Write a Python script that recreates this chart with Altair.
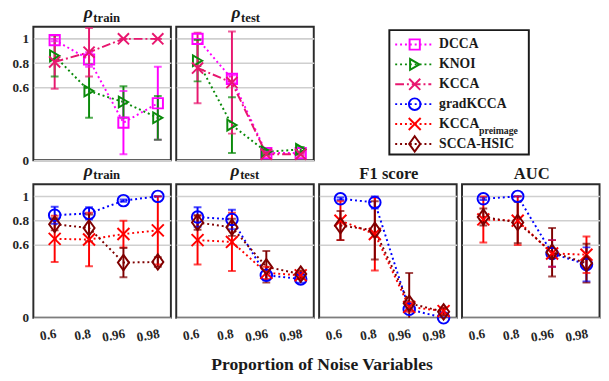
import altair as alt
import pandas as pd

categories = ["0.6", "0.8", "0.96", "0.98"]
series_names = ["DCCA", "KNOI", "KCCA", "gradKCCA", "KCCA_preimage", "SCCA-HSIC"]
legend_labels = ["DCCA", "KNOI", "KCCA", "gradKCCA", "KCCA", "SCCA-HSIC"]
series_colors = ["#ff00ff", "#0a8a0a", "#e8176f", "#0000ff", "#ff0000", "#7f0000"]
series_dash = [[2, 3], [2, 3], [9, 3, 2, 3], [2, 3], [2, 3], [2, 3]]
series_shapes = ["square", "triangle-right", "M-1,-1L1,1M-1,1L1,-1", "circle",
                 "M-1,-1L1,1M-1,1L1,-1", "M0,-1.25L0.9,0L0,1.25L-0.9,0Z"]
series_sizes = [110, 160, 120, 180, 120, 160]

# ---- top row: rho_train ----
top_train_dcca = [0.99, 0.83, 0.31, 0.47]
top_train_dcca_err = [0.01, 0.06, 0.26, 0.30]
top_train_knoi = [0.86, 0.57, 0.48, 0.35]
top_train_knoi_err = [0.17, 0.22, 0.13, 0.18]
top_train_kcca = [0.81, 0.89, 1.00, 1.00]
top_train_kcca_err = [0.22, 0.20, 0.0, 0.0]
# ---- top row: rho_test ----
top_test_dcca = [1.00, 0.67, 0.06, 0.06]
top_test_dcca_err = [0.0, 0.03, 0.01, 0.01]
top_test_knoi = [0.82, 0.29, 0.07, 0.09]
top_test_knoi_err = [0.17, 0.23, 0.02, 0.02]
top_test_kcca = [0.76, 0.64, 0.05, 0.05]
top_test_kcca_err = [0.29, 0.42, 0.01, 0.01]

# ---- bottom row: rho_train ----
bot_train_grad = [0.845, 0.86, 0.965, 1.00]
bot_train_grad_err = [0.07, 0.05, 0.01, 0.0]
bot_train_pre = [0.65, 0.645, 0.69, 0.72]
bot_train_pre_err = [0.19, 0.22, 0.11, 0.28]
bot_train_scca = [0.77, 0.74, 0.455, 0.46]
bot_train_scca_err = [0.05, 0.11, 0.12, 0.04]
# ---- bottom row: rho_test ----
bot_test_grad = [0.83, 0.81, 0.35, 0.32]
bot_test_grad_err = [0.08, 0.08, 0.04, 0.03]
bot_test_pre = [0.64, 0.625, 0.37, 0.35]
bot_test_pre_err = [0.20, 0.24, 0.05, 0.03]
bot_test_scca = [0.785, 0.745, 0.42, 0.36]
bot_test_scca_err = [0.06, 0.07, 0.13, 0.03]
# ---- bottom row: F1 score ----
bot_f1_grad = [0.98, 0.95, 0.07, 0.0]
bot_f1_grad_err = [0.01, 0.05, 0.01, 0.0]
bot_f1_pre = [0.80, 0.69, 0.09, 0.056]
bot_f1_pre_err = [0.16, 0.30, 0.04, 0.03]
bot_f1_scca = [0.76, 0.72, 0.12, 0.05]
bot_f1_scca_err = [0.12, 0.24, 0.25, 0.03]
# ---- bottom row: AUC ----
bot_auc_grad = [0.98, 1.00, 0.53, 0.44]
bot_auc_grad_err = [0.01, 0.0, 0.11, 0.14]
bot_auc_pre = [0.81, 0.80, 0.53, 0.52]
bot_auc_pre_err = [0.19, 0.20, 0.11, 0.15]
bot_auc_scca = [0.83, 0.785, 0.54, 0.45]
bot_auc_scca_err = [0.07, 0.17, 0.20, 0.16]

FONT = "Liberation Serif, Times New Roman, serif"
W, H = 141, 137


def make_df(entries):
    rows = []
    for name, vals, errs in entries:
        for c, v, e in zip(categories, vals, errs):
            rows.append({"series": name, "cat": c, "value": v, "lo": v - e, "hi": v + e})
    return pd.DataFrame(rows)


color_scale = alt.Scale(domain=series_names, range=series_colors)
dash_scale = alt.Scale(domain=series_names, range=series_dash)
shape_scale = alt.Scale(domain=series_names, range=series_shapes)
size_scale = alt.Scale(domain=series_names, range=series_sizes)


def panel(df, title, sub, show_y, show_x, rho_right):
    if show_x:
        xaxis = alt.Axis(title=None, labelFont=FONT, labelFontWeight="bold", labelFontSize=13.5,
                         labelColor="#262626", labelAngle=350, labelAlign="right",
                         labelBaseline="top", labelPadding=9, ticks=False,
                         domain=False, grid=False)
    else:
        xaxis = alt.Axis(title=None, labels=False, ticks=False, domain=False, grid=False)
    yaxis = alt.Axis(values=[0, 0.6, 0.8, 1], format="~g", title=None, labels=show_y,
                     labelFont=FONT, labelFontWeight="bold", labelFontSize=13.5,
                     labelColor="#262626", labelPadding=5, ticks=False, domain=False,
                     grid=True, gridColor="#cfcfcf", gridWidth=1.6,
                     minExtent=24.5 if show_y else 0, maxExtent=24.5 if show_y else 0)
    x = alt.X("cat:O", scale=alt.Scale(type="point", domain=categories,
                                        paddingOuter=0.41, align=0.62), axis=xaxis)
    yscale = alt.Scale(domain=[0, 1.1], nice=False, zero=False)
    color = alt.Color("series:N", scale=color_scale, legend=None)
    base = alt.Chart(df)
    lines = base.mark_line(strokeWidth=2).encode(
        x=x, y=alt.Y("value:Q", scale=yscale, axis=yaxis), color=color,
        strokeDash=alt.StrokeDash("series:N", scale=dash_scale, legend=None))
    bars = base.mark_rule(strokeWidth=2, clip=True).encode(
        x=x, y=alt.Y("lo:Q", scale=yscale), y2="hi:Q", color=color)
    cap_lo = base.mark_tick(size=8, thickness=2, clip=True, orient="horizontal").encode(
        x=x, y=alt.Y("lo:Q", scale=yscale), color=color)
    cap_hi = base.mark_tick(size=8, thickness=2, clip=True, orient="horizontal").encode(
        x=x, y=alt.Y("hi:Q", scale=yscale), color=color)
    pts = base.mark_point(filled=False, strokeWidth=2, opacity=1).encode(
        x=x, y=alt.Y("value:Q", scale=yscale), color=color,
        shape=alt.Shape("series:N", scale=shape_scale, legend=None),
        size=alt.Size("series:N", scale=size_scale, legend=None))
    one = alt.Chart(alt.Data(values=[{"k": 0}]))
    layers = [lines, bars, cap_lo, cap_hi, pts]
    if sub:
        layers.append(one.mark_text(font=FONT, fontSize=18, fontWeight="bold", fontStyle="italic",
                                    align="right", baseline="alphabetic", color="#1a1a1a").encode(
            x=alt.value(rho_right), y=alt.value(-8.5), text=alt.value(title)))
        layers.append(one.mark_text(font=FONT, fontSize=13, fontWeight="bold",
                                    align="left", baseline="alphabetic", color="#1a1a1a").encode(
            x=alt.value(rho_right + 0.5), y=alt.value(-5), text=alt.value(sub)))
    else:
        layers.append(one.mark_text(font=FONT, fontSize=17, fontWeight="bold",
                                    align="center", baseline="alphabetic", color="#1a1a1a").encode(
            x=alt.value(W / 2 + 1), y=alt.value(-5.5), text=alt.value(title)))
    return alt.layer(*layers).properties(width=W, height=H)


p_top_train = panel(make_df([("DCCA", top_train_dcca, top_train_dcca_err),
                             ("KNOI", top_train_knoi, top_train_knoi_err),
                             ("KCCA", top_train_kcca, top_train_kcca_err)]),
                    "ρ", "train", True, False, 61)
p_top_test = panel(make_df([("DCCA", top_test_dcca, top_test_dcca_err),
                            ("KNOI", top_test_knoi, top_test_knoi_err),
                            ("KCCA", top_test_kcca, top_test_kcca_err)]),
                   "ρ", "test", False, False, 66)
p_bot_train = panel(make_df([("gradKCCA", bot_train_grad, bot_train_grad_err),
                             ("KCCA_preimage", bot_train_pre, bot_train_pre_err),
                             ("SCCA-HSIC", bot_train_scca, bot_train_scca_err)]),
                    "ρ", "train", True, True, 61)
p_bot_test = panel(make_df([("gradKCCA", bot_test_grad, bot_test_grad_err),
                            ("KCCA_preimage", bot_test_pre, bot_test_pre_err),
                            ("SCCA-HSIC", bot_test_scca, bot_test_scca_err)]),
                   "ρ", "test", False, True, 65)
p_bot_f1 = panel(make_df([("gradKCCA", bot_f1_grad, bot_f1_grad_err),
                          ("KCCA_preimage", bot_f1_pre, bot_f1_pre_err),
                          ("SCCA-HSIC", bot_f1_scca, bot_f1_scca_err)]),
                 "F1 score", None, False, True, 0)
p_bot_auc = panel(make_df([("gradKCCA", bot_auc_grad, bot_auc_grad_err),
                           ("KCCA_preimage", bot_auc_pre, bot_auc_pre_err),
                           ("SCCA-HSIC", bot_auc_scca, bot_auc_scca_err)]),
                  "AUC", None, False, True, 0)

# ---- legend box (drawn inside a view as tall as the panels) ----
LW = 143
leg_df = pd.DataFrame({"series": series_names, "label": legend_labels})
ly = alt.Y("series:N", scale=alt.Scale(type="point", domain=series_names,
                                        padding=0.86, align=0.52), axis=None)
lcolor = alt.Color("series:N", scale=color_scale, legend=None)
lbase = alt.Chart(leg_df)
leg_frame = alt.Chart(alt.Data(values=[{"k": 0}])).mark_rect(
    fill="white", stroke="#1a1a1a", strokeWidth=2).encode(
    x=alt.value(0), x2=alt.value(LW), y=alt.value(3.5), y2=alt.value(131))
leg_lines = lbase.mark_rule(strokeWidth=2).encode(
    x=alt.value(6), x2=alt.value(43), y=ly, color=lcolor,
    strokeDash=alt.StrokeDash("series:N", scale=dash_scale, legend=None))
leg_pts = lbase.mark_point(filled=False, strokeWidth=2, opacity=1).encode(
    x=alt.value(26), y=ly, color=lcolor,
    shape=alt.Shape("series:N", scale=shape_scale, legend=None),
    size=alt.Size("series:N", scale=size_scale, legend=None))
leg_txt = lbase.mark_text(font=FONT, fontSize=14, fontWeight="bold", align="left",
                          baseline="middle", color="#1a1a1a").encode(
    x=alt.value(51), y=ly, text="label:N")
leg_sub = lbase.transform_filter(alt.datum.series == "KCCA_preimage").mark_text(
    font=FONT, fontSize=10, fontWeight="bold", align="left", baseline="middle",
    color="#1a1a1a", dy=7.5).encode(x=alt.value(92), y=ly, text=alt.value("preimage"))
legend_box = alt.layer(leg_frame, leg_lines, leg_pts, leg_txt, leg_sub).properties(
    width=LW, height=H, view=alt.ViewBackground(stroke=None))

top_row = alt.hconcat(alt.hconcat(p_top_train, p_top_test, spacing=3.5), legend_box, spacing=75)
bottom_row = alt.hconcat(p_bot_train, p_bot_test, p_bot_f1, p_bot_auc, spacing=3.5)

chart = alt.vconcat(top_row, bottom_row, spacing=-7.5,
                    title=alt.TitleParams("Proportion of Noise Variables", orient="bottom",
                                          anchor="middle", font=FONT, fontSize=18,
                                          fontWeight="bold", color="#1a1a1a", offset=12, dx=18)
                    ).properties(padding={"left": 0, "top": -9.5, "right": 0, "bottom": 0}
                    ).configure_view(stroke="#2b2b2b", strokeWidth=2
                    ).resolve_scale(color="shared")

chart.save("out.html", embed_options={"renderer": "svg", "actions": False})
